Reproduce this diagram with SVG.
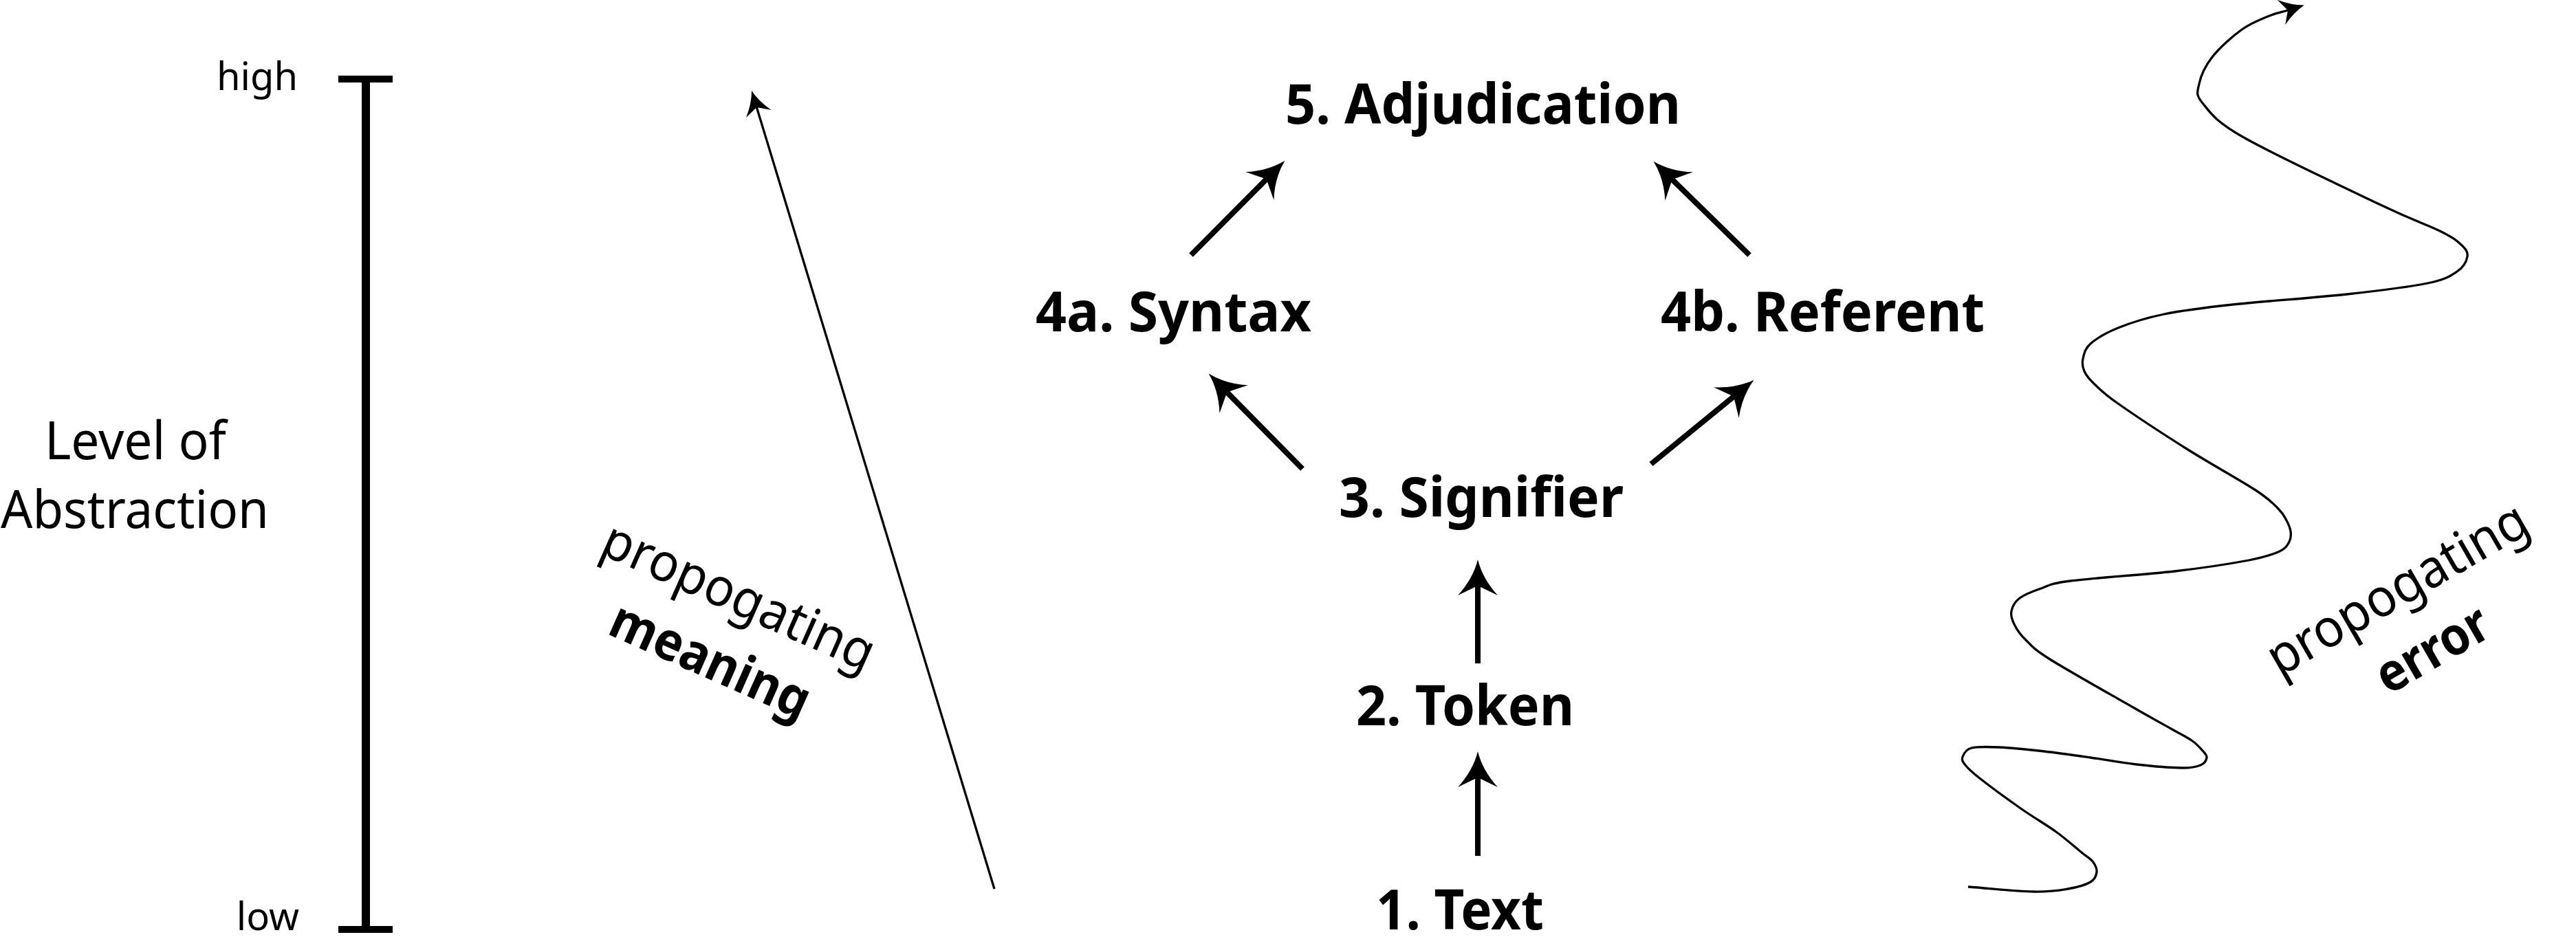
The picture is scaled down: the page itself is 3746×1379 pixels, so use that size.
<svg xmlns="http://www.w3.org/2000/svg" width="3746" height="1379" viewBox="0 0 3746 1379">
  <style>
    .t { font-family: "Noto Sans", "Open Sans", "Liberation Sans", sans-serif; fill: #000; }
    .node { font-size: 80px; font-weight: 700; text-anchor: middle; }
    .reg { font-size: 77px; font-weight: 400; }
    .bold { font-size: 77px; font-weight: 700; }
    .ax { font-size: 56px; font-weight: 400; text-anchor: end; }
    .conn { stroke: #000; stroke-width: 8; fill: none; marker-end: url(#big); }
    .thin { stroke: #000; stroke-width: 3.3; fill: none; marker-end: url(#small); }
  </style>
  <defs>
    <marker id="big" markerUnits="userSpaceOnUse" markerWidth="80" markerHeight="80" refX="0" refY="0" orient="auto" style="overflow:visible">
      <path d="M38,0 Q10,-7 -14,-29 L0,0 L-14,29 Q10,7 38,0 Z" fill="#000"/>
    </marker>
    <marker id="small" markerUnits="userSpaceOnUse" markerWidth="60" markerHeight="60" refX="0" refY="0" orient="auto" style="overflow:visible">
      <path d="M25,0 Q8,-5 -10,-19 L0,0 L-10,19 Q8,5 25,0 Z" fill="#000"/>
    </marker>
  </defs>
  <rect width="3746" height="1379" fill="#fff"/>

  <g id="axis">
    <line x1="532" y1="115" x2="532" y2="1352" stroke="#000" stroke-width="12"/>
    <line x1="492" y1="115" x2="571" y2="115" stroke="#000" stroke-width="10"/>
    <line x1="492" y1="1352" x2="571" y2="1352" stroke="#000" stroke-width="10"/>
    <text class="t ax" x="433" y="131">high</text>
    <text class="t ax" x="435" y="1353">low</text>
    <text class="t reg" x="197" y="668" text-anchor="middle" textLength="264" lengthAdjust="spacingAndGlyphs">Level of</text>
    <text class="t reg" x="196" y="768" text-anchor="middle" textLength="390" lengthAdjust="spacingAndGlyphs">Abstraction</text>
  </g>

  <g id="meaning-arrow">
    <line class="thin" x1="1446" y1="1293" x2="1100.3" y2="155.9"/>
    <g transform="translate(1064,891) rotate(24)">
      <text class="t reg" x="0" y="0" text-anchor="middle" textLength="425" lengthAdjust="spacingAndGlyphs">propogating</text>
      <text class="t bold" x="0" y="102" text-anchor="middle" textLength="310" lengthAdjust="spacingAndGlyphs">meaning</text>
    </g>
  </g>

  <g id="node-adjudication"><text class="t node" x="2156.5" y="180" textLength="575" lengthAdjust="spacingAndGlyphs">5. Adjudication</text></g>
  <g id="node-syntax"><text class="t node" x="1706.5" y="482" textLength="401" lengthAdjust="spacingAndGlyphs">4a. Syntax</text></g>
  <g id="node-referent"><text class="t node" x="2650.5" y="482" textLength="471" lengthAdjust="spacingAndGlyphs">4b. Referent</text></g>
  <g id="node-signifier"><text class="t node" x="2154" y="752" textLength="414" lengthAdjust="spacingAndGlyphs">3. Signifier</text></g>
  <g id="node-token"><text class="t node" x="2130.5" y="1055" textLength="317" lengthAdjust="spacingAndGlyphs">2. Token</text></g>
  <g id="node-text"><text class="t node" x="2123" y="1352" textLength="244" lengthAdjust="spacingAndGlyphs">1. Text</text></g>

  <g id="connectors">
    <line class="conn" x1="1732" y1="371" x2="1841.6" y2="260.6"/>
    <line class="conn" x1="2544" y1="371" x2="2431.7" y2="261.2"/>
    <line class="conn" x1="1894" y1="682" x2="1784.3" y2="570.6"/>
    <line class="conn" x1="2401" y1="675" x2="2521.1" y2="576.8"/>
    <line class="conn" x1="2149" y1="965" x2="2149" y2="852"/>
    <line class="conn" x1="2149" y1="1245" x2="2149" y2="1131"/>
  </g>

  <g id="error-squiggle">
    <path class="thin" d="M2862,1290 C2893.7,1292.3 2932.8,1296.5 2957,1297 S2993.2,1295.3 3007,1293 S3033,1287.2 3040,1283 S3048.5,1273 3049,1268 S3046.7,1257.7 3043,1253 S3035.8,1247.2 3027,1240 S3004.5,1220.5 2990,1210 S2958.3,1189.8 2940,1177 S2893.7,1143.7 2880,1133 S2862.3,1118.3 2858,1113 S2852.5,1105.2 2854,1101 S2858.2,1090.3 2867,1088 S2889.3,1086.2 2907,1087 S2950.8,1090.5 2973,1093 S3017.7,1098.8 3040,1102 S3084.8,1109.5 3107,1112 S3157.5,1116.8 3173,1117 S3194,1115.5 3200,1113 S3208.5,1105.5 3209,1102 S3206.7,1096.2 3203,1092 S3194.7,1082.3 3187,1077 S3171.2,1068 3157,1060 S3131.3,1045.8 3102,1029 S3007.2,975.5 2981,959 S2953.7,938.5 2945,930 S2932.3,914.8 2929,908 S2923.7,895.3 2925,889 S2929.8,875.5 2937,870 S2955.7,860.2 2968,856 S2978.7,849.2 3011,845 S3118.8,836 3162,831 S3244.5,819.8 3270,815 S3305.2,806.5 3315,802 S3326.3,792.8 3329,788 S3331.7,778.2 3331,773 S3328,762.5 3325,757 S3320.5,747.3 3313,740 S3302.2,727.5 3280,713 S3213.3,674 3180,653 S3102.5,602.8 3080,587 S3053.2,565.8 3045,558 S3033.7,546 3031,540 S3027.5,528.7 3029,522 S3031.5,507.5 3040,500 S3062.2,484.2 3080,477 S3119.2,462.7 3147,457 S3202.7,447.8 3247,443 S3365.8,433.2 3413,428 S3503.3,417.5 3530,412 S3563.3,401.5 3573,395 S3587,379.5 3588,373 S3585.7,362.2 3579,356 S3567.2,345.5 3548,336 S3511.5,321.7 3464,299 S3306.5,224.8 3263,200 S3213.8,163 3203,150 S3195.7,133.2 3198,122 S3206.7,96.2 3217,83 S3246.2,53 3260,43 S3288.8,27.7 3300,23 S3318.4,17.7 3327,15"/>
    <g transform="translate(3499,879) rotate(-30)">
      <text class="t reg" x="0" y="0" text-anchor="middle" textLength="425" lengthAdjust="spacingAndGlyphs">propogating</text>
      <text class="t bold" x="0" y="102" text-anchor="middle" textLength="178" lengthAdjust="spacingAndGlyphs">error</text>
    </g>
  </g>
</svg>
